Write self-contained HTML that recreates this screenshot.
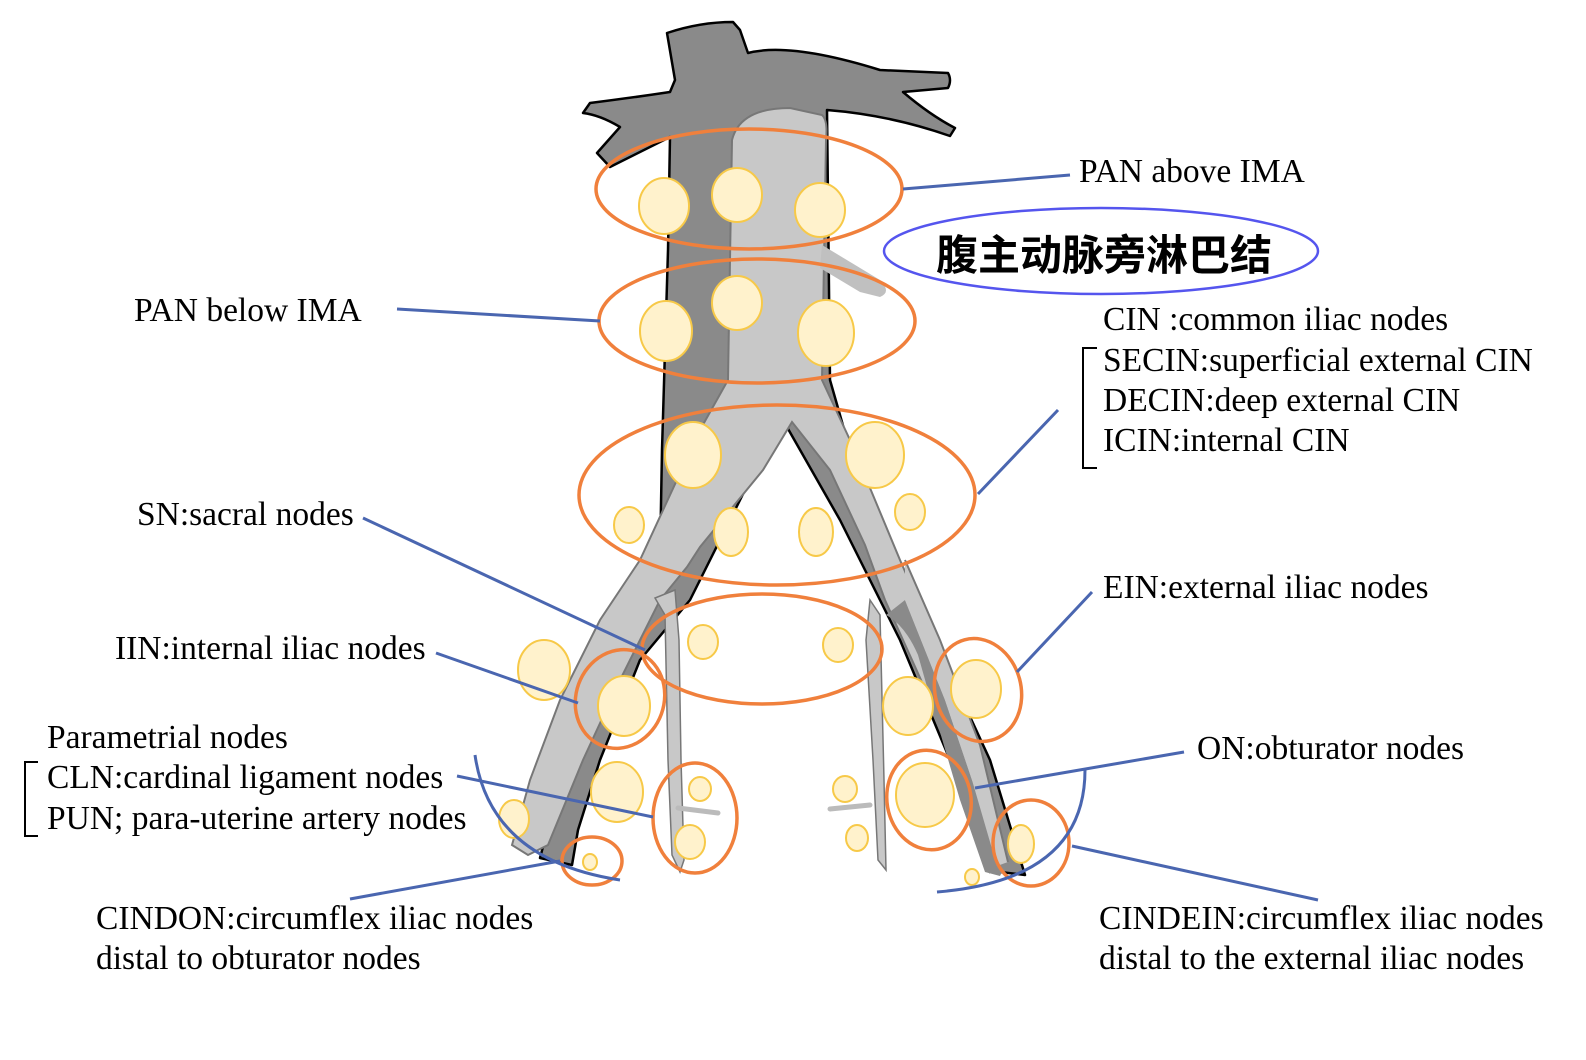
<!DOCTYPE html>
<html><head><meta charset="utf-8"><style>
html,body{margin:0;padding:0;background:#fff;}
svg{display:block;}
text{font-family:"Liberation Serif",serif;font-size:33.5px;fill:#000;}
</style></head><body>
<svg width="1586" height="1060" viewBox="0 0 1586 1060" xmlns="http://www.w3.org/2000/svg">
<path d="M667,33 Q700,22 733,22 L740,30 L748,53 Q790,42 880,70 L948,73 Q952,80 948,88 L903,92 Q930,115 955,128 L950,136 Q890,115 827,110 L830,380 L870,520 L930,630 L990,760 L1025,875 L1000,872 L950,760 L900,640 L840,520 L783,420 L745,490 L690,600 L640,660 L600,760 L578,830 L572,865 L540,858 L550,820 L583,740 L620,640 L660,560 L662,450 L668,250 L670,137 L610,167 L597,153 L620,127 Q600,115 583,113 L590,103 Q630,98 670,92 L675,80 Z" fill="#8a8a8a" stroke="#000" stroke-width="2.5" stroke-linejoin="round"/>
<path d="M732,140 Q740,108 790,108 L822,115 Q828,120 826,140 L822,380 L850,440 L900,560 L935,640 L975,745 L1005,860 L990,872 L975,800 L960,760 L930,700 L885,600 L865,545 L830,470 L792,422 L763,470 L700,547 L687,567 L660,600 L620,680 L583,760 L548,845 L528,855 L512,845 L530,780 L560,700 L600,620 L640,560 L700,430 L728,380 Z" fill="#c8c8c8" stroke="#777" stroke-width="2"/>
<path d="M886,615 Q905,625 918,655 L935,715 L960,800 L985,872 L1000,876 L1005,866 L972,780 L945,700 L905,600 Z" fill="#8a8a8a"/>
<path d="M905,600 L945,700 L972,780 L997,866 L1008,862 L980,745 L940,640 L905,560 Z" fill="#c8c8c8"/>
<path d="M905,560 L940,640 L980,745 L1008,862" fill="none" stroke="#777" stroke-width="2"/>
<path d="M822,245 L880,280 Q892,292 880,297 L860,292 L820,268 Z" fill="#c0c0c0"/>
<path d="M655,598 L665,615 L668,760 L672,855 L680,872 L684,860 L681,760 L679,640 L675,590 Z" fill="#c8c8c8" stroke="#777" stroke-width="1.5"/>
<path d="M870,600 L880,615 L884,780 L886,870 L878,860 L873,760 L866,640 Z" fill="#c8c8c8" stroke="#777" stroke-width="1.5"/>
<path d="M678,808 L718,813" stroke="#bbb" stroke-width="5" stroke-linecap="round"/>
<path d="M830,809 L870,805" stroke="#bbb" stroke-width="5" stroke-linecap="round"/>
<g fill="#fff2cc" stroke="#f7c948" stroke-width="2">
<ellipse cx="664" cy="206" rx="25" ry="28"/><ellipse cx="737" cy="195" rx="25" ry="27"/><ellipse cx="820" cy="210" rx="25" ry="27"/>
<ellipse cx="666" cy="331" rx="26" ry="30"/><ellipse cx="737" cy="303" rx="25" ry="27"/><ellipse cx="826" cy="333" rx="28" ry="33"/>
<ellipse cx="693" cy="455" rx="28" ry="33"/><ellipse cx="875" cy="455" rx="29" ry="33"/>
<ellipse cx="629" cy="525" rx="15" ry="18"/><ellipse cx="731" cy="532" rx="17" ry="24"/><ellipse cx="816" cy="532" rx="17" ry="24"/><ellipse cx="910" cy="512" rx="15" ry="18"/>
<ellipse cx="703" cy="642" rx="15" ry="17"/><ellipse cx="838" cy="645" rx="15" ry="17"/>
<ellipse cx="544" cy="670" rx="26" ry="30"/><ellipse cx="624" cy="706" rx="26" ry="30"/><ellipse cx="908" cy="706" rx="25" ry="29"/><ellipse cx="976" cy="689" rx="25" ry="29"/>
<ellipse cx="617" cy="792" rx="26" ry="30"/><ellipse cx="700" cy="789" rx="11" ry="12"/><ellipse cx="690" cy="842" rx="15" ry="17"/>
<ellipse cx="845" cy="789" rx="12" ry="13"/><ellipse cx="857" cy="838" rx="11" ry="13"/><ellipse cx="925" cy="795" rx="29" ry="32"/>
<ellipse cx="1021" cy="844" rx="13" ry="19"/><ellipse cx="514" cy="819" rx="15" ry="19"/><ellipse cx="590" cy="862" rx="7" ry="8"/><ellipse cx="972" cy="877" rx="7" ry="8"/>
</g>
<g fill="none" stroke="#f0803c" stroke-width="3.5">
<ellipse cx="749" cy="189" rx="153" ry="60"/><ellipse cx="757" cy="321" rx="158" ry="62"/><ellipse cx="777" cy="495" rx="198" ry="90"/>
<ellipse cx="762" cy="649" rx="120" ry="55"/>
<ellipse cx="620" cy="699" rx="44" ry="50" transform="rotate(20 620 699)"/>
<ellipse cx="695" cy="818" rx="42" ry="55"/><ellipse cx="929" cy="800" rx="42" ry="50" transform="rotate(-10 929 800)"/>
<ellipse cx="978" cy="690" rx="43" ry="52" transform="rotate(-15 978 690)"/>
<ellipse cx="592" cy="861" rx="30" ry="24"/><ellipse cx="1031" cy="843" rx="38" ry="43"/>
</g>
<ellipse cx="1101" cy="251" rx="217" ry="43" fill="none" stroke="#5555ee" stroke-width="2.5"/>
<text x="1104" y="270" text-anchor="middle" style="font-family:'Liberation Sans','Noto Sans CJK SC',sans-serif;font-weight:bold;font-size:42px">腹主动脉旁淋巴结</text>
<g stroke="#4a66b0" stroke-width="3" fill="none">
<path d="M903,189 L1070,175"/><path d="M397,309 L600,321"/><path d="M978,494 L1058,410"/>
<path d="M363,518 L645,650"/><path d="M436,653 L578,703"/><path d="M1092,592 L1017,672"/>
<path d="M457,776 L653,817"/><path d="M1184,752 L975,788"/><path d="M350,899 L560,861"/><path d="M1318,900 L1072,846"/>
<path d="M475,755 Q490,860 620,880"/><path d="M1085,770 Q1085,880 937,892"/>
</g>
<path d="M1097,348 L1083,348 L1083,468 L1097,468" fill="none" stroke="#000" stroke-width="2"/>
<path d="M38,762 L25,762 L25,836 L38,836" fill="none" stroke="#000" stroke-width="2"/>
<text x="1079" y="182">PAN above IMA</text>
<text x="134" y="321">PAN below IMA</text>
<text x="1103" y="330">CIN :common iliac nodes</text>
<text x="1103" y="371">SECIN:superficial external CIN</text>
<text x="1103" y="411">DECIN:deep external CIN</text>
<text x="1103" y="451">ICIN:internal CIN</text>
<text x="137" y="525">SN:sacral nodes</text>
<text x="1103" y="598">EIN:external iliac nodes</text>
<text x="115" y="659">IIN:internal iliac nodes</text>
<text x="47" y="748">Parametrial nodes</text>
<text x="47" y="788">CLN:cardinal ligament nodes</text>
<text x="47" y="829">PUN; para-uterine artery nodes</text>
<text x="1197" y="759">ON:obturator nodes</text>
<text x="96" y="929">CINDON:circumflex iliac nodes</text>
<text x="96" y="969">distal to obturator nodes</text>
<text x="1099" y="929">CINDEIN:circumflex iliac nodes</text>
<text x="1099" y="969">distal to the external iliac nodes</text>
</svg>
</body></html>
